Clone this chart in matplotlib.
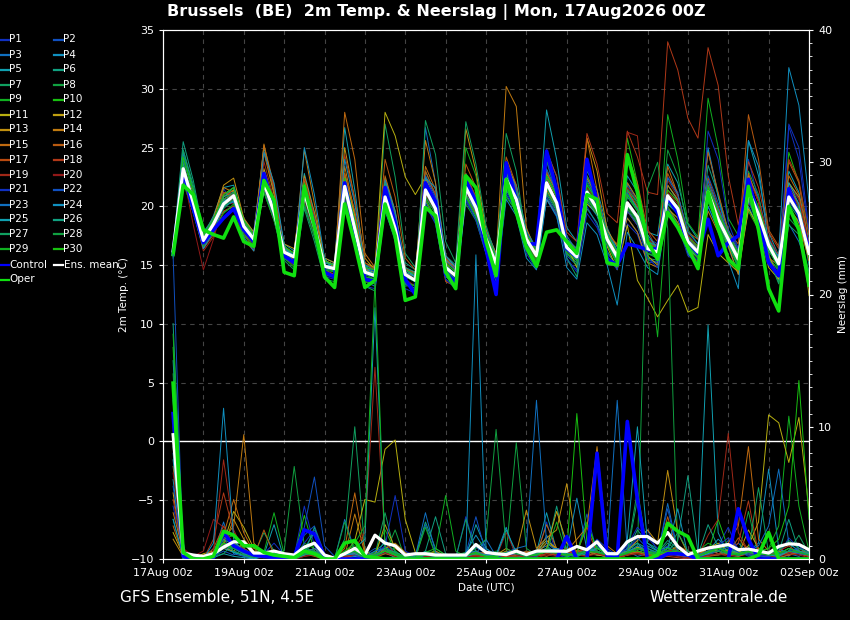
import matplotlib
matplotlib.use("Agg")
import matplotlib.pyplot as plt
from matplotlib.lines import Line2D
from matplotlib.ticker import MultipleLocator
import pandas as pd

# 6-hourly forecast steps, 17Aug 06z .. 02Sep 00z
times = pd.date_range("2026-08-17 06:00", periods=64, freq="6h")
tick_dates = pd.date_range("2026-08-17", "2026-09-02", freq="2D")
tick_labels = ["17Aug 00z", "19Aug 00z", "21Aug 00z", "23Aug 00z", "25Aug 00z",
               "27Aug 00z", "29Aug 00z", "31Aug 00z", "02Sep 00z"]
grid_days = pd.date_range("2026-08-17", "2026-09-02", freq="1D")

member_names = ["P%d" % i for i in range(1, 31)]
member_colors = ["#1030c0", "#1050c0", "#1070c0", "#1090c0", "#10a0b0",
                 "#10a080", "#10a060", "#10a040", "#10b020", "#18c010",
                 "#b8b010", "#c0a010", "#c09010", "#c07a10", "#c06a10",
                 "#b85a10", "#b84a10", "#b03818", "#a02818", "#901818"]
member_colors = member_colors + member_colors[:10]

# 2m temperature (°C), one list per member
member_temp = [
    [16.0,23.8,20.0,16.8, 18.0,21.5,20.2,17.5, 16.8,22.6,19.0,15.5, 15.2,22.0,18.9,14.0, 13.8,22.5,18.6,13.9, 13.5,19.8,17.4,13.0, 12.6,20.1,18.5,13.8, 13.2,20.4,19.0,16.1,
     14.0,23.5,21.5,16.8, 15.0,23.8,21.0,15.4, 14.6,20.0,18.4,16.0, 15.0,18.5,17.6,15.2, 15.3,22.5,21.2,16.5, 15.0,20.0,18.0,16.5, 14.2,24.0,20.5,15.5, 13.6,26.8,24.0,17.5],
    [16.3,22.8,20.8,17.4, 18.8,19.9,21.4,18.6, 17.5,21.4,19.8,16.4, 16.0,20.6,17.9,15.3, 15.1,21.0,17.6,14.8, 14.5,21.6,18.8,14.6, 14.3,22.4,20.5,15.6, 14.8,22.5,20.8,18.1,
     16.0,21.5,19.7,16.5, 15.2,20.6,19.1,15.8, 15.0,22.4,20.9,18.0, 16.5,21.8,20.4,17.3, 16.8,19.6,18.6,16.2, 15.4,22.6,20.3,18.0, 16.4,20.0,18.2,15.8, 14.4,22.0,20.6,16.8],
    [15.8,24.5,21.0,16.5, 17.9,20.8,21.2,17.9, 16.9,23.0,20.2,15.8, 15.5,21.8,18.6,14.2, 14.0,20.8,17.0,13.6, 13.2,20.0,17.5,13.5, 13.0,26.7,22.0,15.5, 14.6,20.8,19.2,16.5,
     14.5,21.0,19.5,16.2, 15.0,24.8,22.5,17.5, 16.2,21.8,20.6,17.8, 16.0,19.0,17.8,15.5, 15.2,20.4,19.3,16.4, 15.8,25.0,21.0,16.8, 15.0,22.5,20.8,17.2, 15.8,18.5,17.0,14.5],
    [16.4,22.6,19.8,16.9, 18.6,20.6,20.4,18.0, 17.0,21.2,19.2,16.2, 15.9,20.9,18.0,15.0, 14.9,21.4,18.2,14.7, 14.3,21.2,18.6,14.8, 14.0,20.8,19.4,14.5, 13.8,21.9,20.2,17.4,
     15.4,22.0,20.4,17.5, 16.2,21.2,19.8,16.8, 15.9,20.6,19.5,17.6, 15.8,21.0,19.9,17.0, 16.6,21.8,20.5,17.6, 16.4,20.5,18.5,17.0, 15.8,21.6,19.8,17.1, 15.6,19.8,18.6,15.5],
    [16.1,24.8,21.5,17.5, 19.2,21.6,21.8,18.9, 17.8,25.0,21.2,16.8, 16.2,22.8,19.5,15.6, 15.2,26.7,21.4,15.0, 14.6,19.6,17.2,13.6, 13.2,20.4,18.8,14.0, 13.5,22.8,20.6,17.8,
     15.8,23.6,21.8,18.0, 16.4,28.2,24.0,18.2, 17.0,23.0,21.4,18.2, 16.2,22.0,20.6,17.8, 17.5,23.6,22.0,18.5, 17.2,24.8,20.8,17.8, 16.0,25.6,22.6,17.8, 15.8,23.0,21.2,17.0],
    [16.5,25.5,22.2,17.8, 19.0,19.5,20.0,17.6, 17.0,21.8,19.0,15.6, 15.0,20.0,17.5,14.6, 14.6,22.6,19.0,15.0, 14.8,22.4,19.4,15.2, 14.6,23.0,21.0,15.8, 15.0,20.6,19.0,16.4,
     14.8,21.4,19.8,16.6, 15.6,21.0,19.6,16.0, 15.2,19.8,18.6,16.2, 14.8,20.8,19.6,15.6, 15.4,19.2,18.4,16.2, 15.8,23.5,21.0,18.0, 16.0,20.0,18.0,15.5, 14.0,21.6,20.0,15.0],
    [16.0,23.0,20.5,17.0, 18.2,19.8,20.6,17.8, 17.0,21.6,19.4,16.0, 15.4,21.0,18.2,14.8, 14.4,21.2,17.8,14.0, 13.8,27.0,22.5,16.0, 14.8,21.0,19.6,14.6, 14.0,21.2,19.4,16.8,
     14.6,22.8,21.0,16.6, 15.0,21.6,20.0,16.2, 15.5,20.8,19.6,17.0, 15.4,19.6,18.6,16.0, 15.6,20.2,19.4,16.6, 15.8,22.0,19.6,17.6, 15.6,21.0,19.0,16.4, 15.0,20.2,19.0,15.6],
    [16.2,22.0,19.5,16.6, 18.4,20.0,20.8,18.2, 17.4,22.4,19.8,16.4, 16.0,21.6,18.6,15.2, 14.9,20.6,17.2,13.8, 13.6,19.8,17.0,13.2, 13.4,21.8,20.2,15.2, 14.4,20.2,18.8,16.0,
     15.2,22.6,20.8,17.0, 15.6,21.4,19.8,16.0, 15.4,21.6,20.2,17.4, 15.6,21.6,20.2,16.8, 16.0,24.8,22.6,18.0, 16.8,20.8,18.4,16.6, 14.8,23.0,21.0,16.0, 13.5,19.0,18.0,14.4],
    [15.6,23.6,20.2,17.2, 18.6,20.4,21.0,18.4, 17.2,21.8,19.4,16.2, 15.8,21.0,18.2,15.0, 14.6,21.4,18.0,14.2, 13.8,20.2,17.8,14.0, 13.6,21.0,19.6,14.6, 13.8,25.0,22.6,17.8,
     15.0,20.8,19.6,16.6, 15.4,22.6,20.8,16.8, 15.8,22.0,20.6,17.4, 15.2,20.0,18.8,16.0, 15.8,27.8,24.0,18.6, 17.4,29.2,25.0,19.0, 17.5,22.0,19.4,16.2, 15.2,19.6,18.8,15.8],
    [16.2,24.0,21.0,17.4, 18.8,20.6,21.2,18.5, 17.4,22.8,20.0,16.6, 15.6,21.4,18.4,15.0, 14.4,21.0,17.8,14.0, 13.8,21.8,18.8,14.4, 14.0,20.6,19.0,14.0, 13.6,20.8,19.4,16.6,
     14.8,22.0,20.2,16.8, 15.4,20.8,19.4,16.2, 15.6,21.4,19.8,16.8, 15.0,25.8,22.0,17.0, 16.0,20.0,18.6,16.4, 15.8,20.4,18.2,16.6, 15.2,19.6,18.0,15.6, 14.6,24.6,22.0,17.6],
    [16.4,22.4,20.0,16.8, 18.2,21.0,21.6,18.8, 17.6,21.4,19.2,16.0, 15.6,22.2,19.0,15.4, 15.0,22.8,19.2,15.2, 14.8,28.0,26.0,22.5, 21.0,22.5,20.4,15.5, 14.6,22.0,20.4,17.6,
     15.8,23.0,21.0,17.0, 16.0,21.8,20.6,16.6, 14.8,20.2,19.4,16.6, 14.6,18.4,13.7,12.2, 10.6,12.0,13.3,11.0, 11.4,17.6,16.0,15.2, 14.4,19.8,18.2,14.8, 13.8,20.6,19.6,12.4],
    [16.0,23.4,20.6,17.2, 18.4,20.8,21.4,18.6, 17.6,23.2,20.4,16.6, 16.0,21.8,18.8,15.4, 15.0,22.0,18.4,14.6, 14.4,21.0,18.4,14.6, 14.2,22.0,20.4,15.4, 14.8,21.0,19.4,16.8,
     14.8,23.0,21.4,17.6, 16.0,22.8,21.2,17.2, 16.4,21.4,20.0,17.4, 15.4,19.6,18.4,15.8, 15.0,19.8,19.0,16.4, 15.6,20.8,18.6,16.8, 15.4,22.6,20.4,17.2, 15.8,22.0,20.8,16.4],
    [16.3,23.0,21.2,17.6, 19.0,21.8,22.4,19.0, 17.8,24.6,21.0,16.8, 16.4,22.6,19.4,15.6, 15.2,25.0,20.6,15.6, 14.6,21.4,18.6,14.6, 14.4,22.2,20.6,15.4, 14.6,26.6,23.0,18.0,
     16.0,23.8,21.6,17.6, 16.4,22.4,20.8,17.0, 16.0,25.8,23.0,18.0, 16.6,21.4,19.8,16.6, 16.8,21.8,20.6,17.2, 16.4,21.8,19.4,16.6, 14.2,20.6,18.8,15.8, 14.0,20.0,18.6,15.4],
    [16.2,23.6,20.6,17.4, 18.6,21.6,21.2,18.2, 17.0,25.3,21.4,16.4, 15.8,24.8,20.2,15.4, 14.8,23.4,19.4,14.8, 14.0,21.4,18.6,14.6, 14.0,25.6,22.0,15.8, 14.8,22.6,20.6,17.8,
     15.6,30.2,28.5,18.2, 16.0,21.4,19.8,16.2, 15.4,22.4,20.8,17.8, 16.0,19.0,17.8,15.2, 14.8,19.8,18.6,16.2, 15.2,19.6,17.8,15.8, 14.4,20.4,18.6,15.6, 15.0,21.6,20.2,15.4],
    [16.1,23.0,20.8,17.0, 18.2,20.6,21.0,18.0, 16.8,25.2,21.8,16.6, 15.6,22.0,19.0,15.0, 14.6,28.0,24.0,16.0, 14.8,22.6,19.6,14.8, 14.2,23.4,21.4,15.2, 14.0,22.0,20.2,17.0,
     15.2,23.0,21.2,17.4, 15.6,20.6,19.4,16.4, 15.8,25.8,21.4,17.0, 16.2,22.0,20.6,17.2, 16.6,23.4,21.0,17.4, 16.2,22.0,19.6,17.0, 15.4,22.8,20.4,16.6, 15.8,22.6,21.0,16.6],
    [16.2,22.4,20.4,16.8, 17.8,21.2,20.8,17.6, 16.4,22.4,19.6,15.8, 15.2,21.6,18.6,14.6, 14.2,22.8,19.6,14.8, 14.6,24.0,20.8,15.6, 14.6,23.0,21.0,15.6, 14.6,23.6,21.6,17.6,
     15.4,24.2,21.8,17.6, 16.0,23.0,21.2,17.0, 16.4,22.6,21.0,17.6, 16.8,24.4,22.0,18.0, 17.0,22.8,21.0,17.8, 17.2,24.6,21.2,17.8, 16.8,27.8,24.0,18.0, 16.6,23.8,22.0,16.6],
    [16.3,23.4,20.2,16.4, 17.6,19.6,20.0,17.2, 16.2,22.2,19.6,15.8, 15.2,20.8,17.8,14.4, 14.2,21.2,17.6,13.8, 13.4,20.4,17.6,13.6, 12.8,20.6,18.8,13.6, 13.2,21.0,19.4,16.4,
     14.4,21.8,20.0,16.8, 15.2,21.8,20.0,16.4, 15.6,20.6,19.4,16.8, 15.6,21.4,20.0,17.0, 16.4,21.4,20.4,17.4, 16.6,22.4,20.0,17.6, 16.2,21.6,19.6,17.0, 15.4,20.6,19.6,15.6],
    [16.2,22.6,19.8,16.6, 18.0,21.2,21.0,17.6, 16.8,24.6,21.6,16.4, 15.4,22.4,19.2,15.0, 14.6,24.4,20.6,15.2, 14.6,22.2,19.2,14.8, 14.2,22.6,21.0,15.2, 14.8,22.8,20.8,17.2,
     15.8,23.2,21.4,17.6, 16.2,24.6,22.6,17.8, 17.0,26.2,23.6,19.4, 18.6,26.4,24.2,21.2, 21.0,34.0,31.6,27.5, 25.8,33.5,30.3,22.6, 18.4,23.8,21.6,17.8, 16.4,24.0,22.2,17.6],
    [16.0,22.2,19.6,16.2, 17.4,20.2,20.6,17.8, 17.0,23.8,20.6,16.2, 15.4,21.4,18.4,14.8, 14.6,21.8,18.4,14.4, 14.2,20.8,18.2,14.4, 13.8,21.4,19.8,14.6, 14.0,21.4,19.8,17.0,
     15.2,22.0,20.4,17.0, 15.6,21.8,20.2,16.6, 15.8,21.0,19.8,17.2, 15.8,26.3,26.0,18.0, 16.2,21.2,20.2,17.4, 16.4,21.6,19.4,17.4, 15.8,21.8,19.8,17.0, 15.4,21.4,20.0,16.4],
    [15.9,22.8,18.4,14.6, 17.2,20.4,20.2,17.0, 16.4,21.6,19.2,15.6, 15.0,20.4,17.6,14.2, 14.0,20.8,17.4,13.6, 13.4,20.2,17.8,13.8, 13.2,21.0,19.4,14.2, 13.6,21.2,19.6,16.8,
     14.8,21.6,20.2,16.8, 15.4,21.6,20.0,16.4, 15.6,21.6,20.4,17.4, 16.0,21.6,20.4,17.2, 16.6,22.2,20.8,17.6, 16.6,22.0,19.8,17.8, 16.2,22.4,20.4,17.4, 15.8,21.8,20.6,16.8],
    [16.4,23.4,20.8,17.2, 18.4,20.0,20.6,18.0, 17.0,21.6,19.0,15.6, 15.2,20.2,17.4,14.0, 14.0,20.6,17.2,13.2, 13.0,20.0,17.2,13.4, 12.8,20.2,18.6,13.8, 13.0,20.6,18.8,16.0,
     14.0,21.2,19.6,16.0, 14.6,20.8,19.4,15.6, 14.4,19.4,18.2,15.8, 14.6,19.6,18.4,15.6, 14.8,19.8,18.4,15.8, 15.2,26.4,24.0,18.6, 16.4,20.4,18.4,15.4, 14.2,27.0,25.0,18.0],
    [16.2,23.2,20.6,17.0, 18.6,20.2,20.8,18.4, 17.2,22.0,19.6,16.2, 15.8,21.2,18.2,14.8, 14.6,21.6,18.0,14.2, 14.0,20.6,17.8,14.0, 13.6,21.2,19.6,14.6, 13.8,21.4,19.6,17.0,
     15.0,22.2,20.6,17.2, 15.8,22.2,20.4,16.6, 15.6,21.0,19.6,17.0, 15.4,20.0,18.8,16.2, 15.8,20.6,19.6,16.8, 15.8,20.8,18.6,17.0, 15.4,21.0,19.0,16.4, 14.8,20.4,19.2,15.8],
    [16.6,24.0,21.4,17.8, 18.8,20.4,21.0,18.4, 17.4,22.4,19.8,16.2, 15.6,21.6,18.6,15.2, 15.0,22.2,18.6,14.8, 14.4,21.6,18.8,14.6, 14.2,22.6,20.8,15.4, 14.6,22.4,20.6,17.8,
     15.8,23.4,21.6,17.8, 16.4,23.2,21.2,17.2, 16.4,22.2,20.6,17.8, 16.2,21.2,19.8,17.0, 16.6,22.4,21.0,17.8, 16.8,22.2,19.8,17.8, 16.2,21.6,19.8,17.2, 15.6,21.0,19.6,16.4],
    [16.1,22.4,19.4,16.4, 17.8,20.0,20.4,17.4, 16.2,24.6,22.0,16.8, 15.0,25.0,21.0,15.6, 14.4,24.0,20.2,15.0, 14.0,22.2,19.6,14.6, 14.0,22.4,21.6,15.8, 14.8,21.0,19.6,16.0,
     13.6,20.6,19.2,15.6, 14.6,20.6,19.2,14.8, 13.8,18.6,17.6,15.0, 11.6,17.8,16.4,14.8, 14.2,20.2,19.4,16.0, 15.0,20.0,18.0,15.4, 13.0,25.6,23.4,16.6, 15.8,31.8,28.6,20.4],
    [16.0,22.8,20.0,17.0, 18.4,20.4,21.0,18.2, 17.2,22.6,20.0,16.4, 15.8,21.4,18.4,15.0, 14.8,22.0,18.4,14.6, 14.2,21.2,18.6,14.4, 14.0,21.8,20.0,15.0, 14.2,21.8,20.2,17.4,
     15.4,22.6,20.8,17.2, 15.8,21.6,20.0,16.4, 15.4,20.4,19.2,16.8, 15.4,22.6,21.2,17.6, 16.4,20.6,19.4,16.6, 15.6,21.0,18.6,16.8, 15.0,20.8,19.0,16.2, 15.0,22.0,20.2,16.0],
    [16.3,23.6,20.6,17.4, 18.8,20.8,21.6,18.8, 17.6,22.4,19.8,16.4, 16.0,21.6,18.6,15.2, 15.0,22.2,18.8,14.8, 14.6,22.0,19.2,14.8, 14.4,21.6,20.0,15.0, 14.2,21.6,19.8,17.2,
     15.2,22.8,21.2,17.6, 16.2,22.6,21.0,17.2, 16.0,21.4,20.2,17.8, 16.2,21.0,19.8,17.0, 16.6,21.0,20.0,17.2, 16.4,21.4,19.2,17.6, 15.8,21.6,19.8,17.0, 15.4,21.0,19.8,16.4],
    [16.2,24.8,21.8,17.6, 19.0,20.6,21.2,18.6, 17.4,21.2,18.8,15.4, 14.6,19.8,17.0,13.8, 13.6,20.4,17.0,13.2, 12.8,19.8,17.4,13.4, 12.8,27.3,24.4,17.0, 15.2,27.2,23.6,18.4,
     15.6,26.2,23.0,17.0, 15.0,24.0,21.0,15.6, 14.0,22.6,20.8,17.4, 15.6,21.4,20.4,17.0, 16.0,21.0,19.8,16.8, 16.0,21.8,19.6,17.4, 14.6,20.6,18.6,15.6, 13.4,18.4,17.6,14.0],
    [16.4,24.2,21.2,17.4, 18.6,20.0,20.6,18.0, 17.0,21.8,19.2,15.8, 15.4,20.8,17.8,14.6, 14.4,21.0,17.6,14.0, 13.8,20.4,17.8,14.0, 13.6,20.8,19.4,14.4, 13.6,20.8,19.2,16.6,
     14.6,21.6,20.0,16.6, 15.2,21.2,19.8,16.0, 15.0,20.6,19.4,16.8, 15.2,19.8,18.6,16.0, 15.6,20.4,19.4,16.6, 15.8,20.8,18.6,17.0, 15.4,21.0,19.0,16.4, 14.8,20.6,19.4,15.8],
    [15.8,23.0,19.6,16.6, 18.0,19.4,20.2,17.6, 16.6,21.2,18.8,15.6, 14.8,20.2,17.4,14.2, 14.0,20.4,17.2,13.6, 13.4,19.8,17.4,13.6, 13.2,20.6,19.0,14.2, 13.8,21.0,19.2,16.8,
     14.6,21.6,20.0,16.8, 15.4,21.6,20.0,16.2, 15.4,20.8,19.4,16.8, 15.2,20.0,18.8,16.2, 8.9,20.8,19.6,16.8, 15.6,20.8,18.6,17.0, 15.0,21.0,19.0,16.4, 14.6,20.8,19.6,15.6],
    [16.5,24.2,21.4,17.6, 18.8,21.0,21.6,18.8, 17.6,22.8,20.2,16.6, 16.0,22.0,18.8,15.4, 15.0,22.4,18.8,14.8, 14.6,21.6,18.8,14.6, 14.2,22.0,20.4,15.2, 14.4,22.2,20.4,17.6,
     15.6,23.0,21.2,17.6, 16.2,22.6,20.8,17.0, 16.0,21.8,20.4,17.6, 16.0,21.0,19.6,16.8, 16.4,21.4,20.4,17.4, 16.6,21.6,19.6,17.6, 16.0,21.8,20.0,17.0, 15.4,21.2,19.8,16.4],
]

# 6-hourly precipitation (mm), one list per member
member_precip = [
    [4.0,0.3,0,0.1, 0.8,1.5,0.6,0.2, 0,0.4,1.2,0.3, 0.2,4.0,1.0,0, 0,0.2,0.5,0.1, 0.3,1.0,0.4,0, 0,0.2,0.1,0, 0,3.2,0.6,0.2,
     0.4,0,0.3,0.6, 0.2,2.8,0.3,0.1, 0.6,0.2,1.2,0, 0,0.8,1.4,2.2, 0.5,1.0,0.3,0, 0.2,0.5,1.0,2.4, 0.6,0.2,0.4,0, 0.3,1.6,0.8,0.5],
    [23.0,0,0,0, 0.2,0.6,0.3,0.8, 0.3,0.1,0.5,0, 0,1.8,2.5,0.4, 0,0,0.2,0.3, 0.8,0.6,0.2,0, 0,2.6,0.3,0.1, 0,0.2,0.9,0.4,
     0,0.3,0.2,0, 0.4,0.6,0.2,0.9, 0.3,3.4,0.5,0, 0.1,1.2,0.5,0.8, 0.4,0.3,1.0,0.2, 0,0.3,0.6,1.4, 0.8,0.4,0,0.2, 0.5,0.2,1.0,0.3],
    [8.0,0.5,0,0, 0.3,2.8,0.4,0.2, 0.1,0.6,0.3,0, 0,0.5,0.8,0.2, 0,3.0,0.6,0, 0,1.5,0.3,0.1, 0.2,0.2,0,0, 0.1,0.3,0.4,1.5,
     0.2,0.1,0.4,0.3, 0.2,1.8,0.5,0.3, 0.4,0.8,0.3,0.5, 12.0,0.6,0.2,0.4, 0.3,4.2,0.6,0.2, 0.1,0.9,0.4,0.6, 1.2,0.5,0.3,0.1, 0.8,0.4,0.2,0.6],
    [12.0,0.2,0,0, 0.2,1.0,0.5,0.3, 0,0.2,0.6,0.2, 0.1,0.8,2.0,0.3, 0,0.1,0.3,0, 0.4,0.8,0.2,0, 0,0.6,0.4,0.2, 0.1,0.5,1.8,0.6,
     0.3,2.4,0.1,0.4, 0.6,1.0,0.4,0.2, 0.3,0.6,1.0,0.4, 0.2,0.4,0.8,1.0, 0.6,0.9,0.4,0.1, 0.3,0.6,1.5,0.8, 0.4,0.6,1.2,6.8, 0.8,0.3,0.6,0.2],
    [6.0,0,0,0, 0.1,0.4,0.2,0.1, 0,0.3,2.6,0, 0,0.6,0.4,0, 0,0.3,0.2,0, 0.2,0.5,0.1,0, 0.3,0.2,0.4,0.1, 0,0.1,2.6,0.8,
     0.2,0.4,0.3,0.2, 0.5,3.5,0.6,0.3, 0.2,0.4,0.8,0.6, 0.3,0.8,1.2,0.4, 0.2,0.5,0.6,0.2, 0.4,17.7,2.0,0.3, 0.2,0.5,0.4,0.2, 0.1,0.3,0.6,0.4],
    [17.8,0.6,0.2,0, 0.3,0.8,1.4,0.6, 0.2,0.5,0.3,0, 0,0.6,1.2,0.2, 0,0.5,0.8,0.1, 0.6,1.2,0.6,0, 0.2,2.8,0.8,0.3, 0.1,0.2,0.4,0,
     0.1,0.3,0.6,0.2, 0.4,0.6,4.0,0.5, 0.3,0.5,1.2,0.4, 0.2,0.6,2.2,1.2, 0.8,0.6,1.4,6.3, 0.5,0.3,0.8,1.0, 0.4,0.6,0.3,0.2, 0.5,3.0,0.6,0.3],
    [3.0,0,0,0, 0.2,0.4,1.2,0.8, 0.3,2.0,0.6,0.2, 0.1,0.5,0.3,0, 0,1.5,10.0,0.6, 0.3,3.5,0.4,0, 0.1,0.3,0.6,0.2, 0,0.3,0.2,0.1,
     0.5,0.3,0.2,0.6, 0.4,1.2,0.8,0.3, 0.5,0.6,0.3,0.2, 0.1,0.4,4.5,0.8, 0.4,1.2,0.6,0.3, 0.2,0.4,0.3,0.6, 0.4,0.8,0.5,0.3, 0.2,0.6,1.8,0.4],
    [10.0,0.3,0,0, 0.4,1.2,0.8,0.5, 0.2,0.3,0.4,0.6, 7.0,1.0,0.4,0, 0,0.3,0.4,0, 0.2,0.4,2.2,0, 0,0.4,0.3,0.1, 0.3,0.5,0.6,0.2,
     0.6,0.4,8.8,0.8, 0.3,0.5,0.4,0.2, 0.6,0.4,0.9,0.3, 0.2,0.5,0.5,28.0, 30.0,25.0,0.6,0.4, 0.3,0.5,0.9,0.4, 0.3,3.6,0.2,0.5, 0.8,1.2,0.6,0.2],
    [14.0,0.8,0,0, 0.3,1.5,1.8,1.0, 0.6,0.5,3.5,0.4, 0.2,1.2,0.8,0.1, 0,0.6,1.0,0.2, 0.5,2.2,0.6,0.1, 0.3,0.4,0.6,4.8, 0.6,0.2,0.5,0.3,
     0.2,0.6,0.4,0.2, 0.3,0.8,0.6,0.4, 0.5,2.8,0.6,0.3, 0.2,0.5,1.0,0.6, 0.4,0.8,0.5,0.3, 0.6,1.2,0.8,0.5, 0.3,0.4,0.6,0.8, 2.5,10.8,4.0,0.6],
    [16.0,0.4,0,0, 0.2,0.9,1.0,0.4, 0.3,0.4,0.2,0, 0.1,3.3,0.6,0, 0,0.4,0.6,0.2, 0.3,0.6,0.3,0, 0.1,0.5,0.8,0.3, 0.2,0.4,0.3,0.2,
     0.3,0.5,0.6,0.3, 0.4,0.6,0.8,0.6, 11.0,1.2,0.4,0.2, 0.3,0.6,0.8,0.6, 0.4,0.6,0.9,0.3, 0.2,0.5,3.0,0.8, 0.6,0.4,0.3,0.5, 0.4,0.8,0.6,0.4],
    [2.0,0.3,0,0.4, 0.6,1.2,3.6,2.4, 0.8,0.5,0.2,0.3, 0.1,0.6,0.4,0, 0,0.3,1.4,4.5, 4.3,8.3,9.0,3.0, 0.5,0.3,0.2,0.1, 0,0.3,0.4,0.2,
     0.1,0.5,0.4,0.3, 0.6,1.4,0.8,0.4, 0.3,0.6,0.4,0.2, 0.1,0.3,0.6,0.4, 0.2,0.5,0.3,0.2, 0.4,0.8,1.2,0.6, 0.5,1.0,2.8,10.9, 10.3,7.3,10.7,3.7],
    [5.0,0.2,0,0, 0.3,0.8,0.6,1.2, 0.4,0.3,0.1,0, 0,0.4,0.6,0.1, 0,0.2,0.4,0.1, 0.2,2.6,0.8,0.3, 0.1,0.4,0.2,0, 0,0.2,0.6,0.3,
     0.2,0.4,0.3,0.2, 0.5,0.8,3.6,1.2, 0.6,0.4,0.3,0.2, 0.2,0.5,0.9,0.6, 0.3,0.6,0.4,0.2, 0.3,0.8,0.6,0.4, 0.3,2.2,0.8,0.4, 0.6,0.3,0.5,0.4],
    [1.5,0.2,0,0.2, 0.4,1.0,3.0,1.5, 0.6,0.3,0.2,0.1, 0,0.5,0.8,0.2, 0,0.2,0.5,0.2, 0.1,0.8,1.2,0.5, 0.2,0.3,0.6,0.2, 0,0.2,0.5,0.4,
     0.3,0.8,0.4,3.7, 0.8,1.6,2.2,5.7, 1.0,0.6,0.4,0.3, 0.2,0.6,1.4,2.2, 1.2,6.7,2.0,0.4, 0.3,0.5,0.8,0.6, 0.4,0.6,0.5,0.3, 0.2,0.5,0.8,0.4],
    [3.5,0.6,0,0.3, 0.5,1.5,2.5,9.4, 1.2,0.4,0.2,0, 0,0.3,0.6,0.1, 0,0.2,3.4,0.4, 0.3,0.6,0.2,0, 0.1,0.4,0.3,0.2, 0,0.3,0.4,0.2,
     0.2,0.6,0.5,0.3, 0.4,1.2,0.8,0.6, 1.5,2.4,8.5,1.0, 0.4,0.6,0.5,0.3, 0.2,0.4,0.6,0.3, 0.5,0.8,0.4,0.6, 0.3,0.5,0.6,0.4, 0.2,0.6,0.4,0.3],
    [7.0,0.4,0,0, 0.6,1.8,4.5,2.0, 0.5,0.3,0.2,0, 0,0.6,0.4,0, 0,0.8,5.0,0.6, 0.2,0.6,0.4,0.2, 0.1,0.3,0.5,0.2, 0,0.2,0.3,0.6,
     0.4,0.3,0.2,0.5, 0.3,2.6,0.8,0.4, 0.6,0.8,0.5,0.3, 0.2,0.4,0.6,0.4, 0.3,0.5,1.0,0.6, 0.4,0.6,0.8,1.2, 2.5,8.5,1.5,0.6, 0.4,0.3,0.6,0.5],
    [2.5,0.2,0,0, 0.4,0.8,1.2,0.6, 0.2,2.2,0.3,0, 0,0.4,0.2,0, 0,0.1,0.3,0.2, 0.1,0.4,0.2,0, 0,0.2,0.3,0.1, 0.2,0.3,0.4,0.1,
     0,0.2,0.3,0.6, 0.4,0.2,0.5,0.8, 0.4,0.2,0.6,0.3, 0.1,0.3,0.4,0.2, 0.3,3.2,0.4,0.2, 0.1,0.2,0.3,0.4, 1.6,0.6,0.3,0.2, 0.1,0.3,0.4,0.2],
    [9.0,0.3,0,0, 0.8,2.5,1.0,0.4, 0.2,0.3,0.2,0, 0,0.3,0.5,0.1, 0,0.2,0.4,0.1, 0.3,0.6,0.2,0, 0.1,0.3,0.2,0, 0,0.2,0.3,0.2,
     0.1,0.2,0.4,0.3, 0.2,0.4,0.3,0.6, 0.5,2.4,0.4,0.2, 0.1,0.3,0.5,0.4, 0.2,0.4,0.3,0.1, 0.2,0.4,0.6,0.3, 0.2,0.4,0.3,0.2, 0.3,0.5,0.4,0.2],
    [4.5,0.6,0,0, 1.5,5.0,2.0,0.8, 0.3,0.2,0.4,0.1, 0,0.2,0.3,0, 0,0.3,0.6,0.2, 0.4,0.8,0.3,0, 0.1,0.2,0.1,0, 0,0.1,0.2,0.1,
     0,0.2,0.1,0.3, 0.2,0.4,0.3,0.6, 0.5,0.8,0.4,0.3, 0.2,0.4,0.6,0.3, 0.1,0.2,0.1,0, 0.1,0.2,0.4,0.6, 1.2,4.4,0.4,0.3, 0.6,1.0,0.4,0.2],
    [11.0,0.5,0,0, 0.6,7.5,2.2,0.6, 0.3,0.2,0.1,0, 0,0.4,0.6,0.2, 0,0.3,0.8,2.0, 14.5,1.2,0.4,0.2, 0.1,0.3,0.2,0.1, 0,0.2,0.3,0.2,
     0.1,0.3,0.2,0.4, 0.3,0.6,0.4,0.5, 0.4,0.6,0.5,0.3, 0.2,0.4,0.8,0.6, 0.4,0.6,0.8,0.3, 0.2,1.8,3.0,9.5, 2.0,0.6,0.4,0.2, 0.3,0.5,0.6,0.3],
    [6.5,0.8,0.2,0.6, 3.0,2.4,1.0,0.4, 0.2,0.1,0.3,0, 0,0.2,0.4,0.1, 0,0.2,0.3,0.1, 0.2,0.5,0.2,0, 0,0.2,0.1,0, 0,0.1,0.2,0,
     0.1,2.0,0.3,0.2, 0.1,0.3,0.2,0.4, 0.3,0.2,0.4,0.2, 0.1,0.3,0.4,0.2, 0.2,0.3,0.2,0.1, 0.1,0.3,0.4,0.2, 0.3,0.6,0.4,0.2, 0.2,0.4,0.3,0.1],
    [13.0,0.2,0,0, 0.3,1.6,1.0,0.5, 0.2,0.6,0.4,0.1, 0,1.2,2.2,0.3, 0,0.4,0.6,0.1, 0.3,1.0,4.8,0.6, 0.2,0.4,0.3,0.1, 0,0.3,0.5,0.2,
     0.1,0.4,0.6,0.3, 0.2,0.8,0.5,0.3, 0.4,0.6,1.5,0.8, 0.3,1.0,2.4,1.6, 0.8,0.6,0.4,0.2, 0.3,0.6,1.0,1.6, 0.8,0.4,0.3,0.2, 0.4,0.6,0.8,0.5],
    [5.5,0.3,0,0, 0.2,1.0,0.8,0.4, 0.2,0.4,0.2,0, 0,2.4,6.2,1.0, 0.2,0.4,0.3,0, 0.2,0.6,0.3,0.1, 0,0.3,0.2,0.1, 0.1,0.4,3.2,0.4,
     0.2,0.3,0.4,0.2, 0.4,0.6,0.8,0.4, 0.3,0.5,1.2,0.6, 0.3,0.8,1.6,0.8, 0.4,3.8,0.5,0.2, 0.1,0.4,0.6,0.9, 0.5,0.3,0.2,0.2, 0.4,0.6,0.4,0.3],
    [9.0,0.4,0,0, 0.2,1.2,0.6,0.3, 0.1,0.3,0.2,0, 0,0.5,0.8,0.2, 0,0.3,0.5,0.2, 0.6,0.8,0.4,0.1, 0.2,3.5,0.5,0.2, 0.1,0.4,0.6,0.3,
     0.2,0.5,0.8,1.0, 12.0,1.2,0.6,0.4, 0.3,0.6,0.8,0.4, 0.2,0.5,1.0,0.6, 0.4,0.8,0.6,0.3, 0.2,0.6,0.8,0.5, 0.3,0.6,1.0,2.5, 6.8,1.2,0.6,0.4],
    [3.0,0.2,0,0, 1.2,11.4,1.5,0.4, 0.2,0.3,0.2,0, 0,0.4,0.6,0.2, 0,0.3,0.4,0.1, 0.2,0.6,0.3,0, 0.1,0.4,0.3,0.2, 0.2,0.3,23.0,0.8,
     0.3,0.4,0.6,0.4, 0.3,0.6,0.8,0.5, 4.6,0.7,0.6,0.3, 0.2,0.6,0.8,0.5, 0.4,0.8,3.8,0.3, 0.2,0.5,0.6,0.4, 0.3,0.5,0.6,0.4, 0.3,0.6,0.5,0.3],
    [7.5,0.3,0,0, 0.2,0.8,0.5,0.3, 0.1,0.2,0.4,0.2, 0,0.3,0.5,0.1, 0,0.4,0.8,1.5, 19.0,0.8,0.4,0.2, 0.1,0.3,0.2,0.1, 0,0.2,0.4,0.3,
     0.2,2.2,0.5,0.3, 0.4,0.6,0.5,0.3, 0.2,0.6,0.8,0.4, 0.3,1.5,10.0,1.2, 0.6,0.4,0.3,0.2, 0.2,0.4,0.8,0.5, 0.3,0.5,0.4,0.3, 0.2,0.6,0.5,0.3],
    [15.0,0.5,0,0, 0.3,1.0,0.8,0.4, 0.2,0.3,0.2,0.1, 0,0.4,2.4,0.1, 0,0.3,0.6,0.2, 0.4,0.8,0.5,0.2, 0.1,0.6,3.2,0.4, 0.1,0.3,0.4,0.2,
     0.2,0.4,0.6,0.3, 0.4,0.8,0.6,0.4, 0.3,0.6,0.8,0.5, 0.3,0.6,1.2,0.8, 0.5,1.4,0.8,0.4, 0.3,2.6,0.9,0.7, 0.4,0.6,0.5,0.3, 0.4,0.8,0.6,0.4],
    [12.5,0.4,0,0, 0.4,1.4,1.2,0.5, 0.2,0.4,0.3,0.1, 0,0.8,0.6,0.2, 0,0.5,0.8,0.2, 0.3,0.6,0.4,0.1, 0.2,0.5,0.4,0.2, 0.1,3.0,0.5,0.2,
     0.3,0.5,0.4,0.3, 0.4,0.8,0.5,0.3, 0.4,0.6,0.5,0.3, 0.2,0.5,5.2,0.6, 0.4,0.8,2.0,0.6, 0.3,0.6,0.8,0.5, 0.3,0.6,5.4,0.4, 0.6,1.4,0.8,0.5],
    [8.5,0.3,0,0, 0.3,1.2,0.6,0.3, 0.1,0.3,0.2,0, 0,0.4,0.3,0.1, 0,2.8,0.5,0.1, 0.2,0.6,0.3,0, 0.1,0.3,0.2,0.1, 0,0.4,0.8,1.5,
     9.8,0.8,0.4,0.2, 0.3,0.6,0.4,0.3, 0.2,0.5,0.6,0.3, 0.2,0.4,0.8,0.5, 0.3,0.6,0.4,0.2, 0.2,0.5,0.6,0.4, 0.3,0.5,0.4,0.3, 0.4,0.6,0.5,0.3],
    [17.0,0.6,0,0, 0.2,1.0,0.8,0.6, 0.3,0.4,0.2,0.1, 0,0.5,0.4,0.1, 0,0.6,1.2,2.5, 21.0,0.8,0.4,0.2, 0.1,2.4,0.3,0.1, 0,0.3,0.4,0.2,
     0.2,0.4,0.6,0.3, 0.3,0.6,2.8,0.3, 0.4,0.6,0.5,0.3, 0.2,0.5,0.8,0.6, 0.4,0.8,0.6,0.3, 0.2,0.5,0.8,0.4, 0.3,0.6,0.4,0.3, 0.4,0.8,0.5,0.3],
    [10.5,0.4,0,0, 0.3,1.2,1.0,0.5, 0.2,0.3,0.2,0.1, 0,0.6,0.5,0.1, 0,0.4,0.6,0.2, 0.3,0.6,0.3,0.1, 0.1,0.4,0.3,0.1, 0,0.3,0.5,0.2,
     0.2,0.4,0.5,0.3, 0.3,0.6,0.5,0.3, 0.4,2.6,0.8,0.4, 0.2,0.5,0.6,0.4, 0.3,0.6,0.5,0.2, 0.2,0.5,0.8,0.5, 0.4,0.6,0.5,0.8, 1.5,4.0,13.5,3.0],
]

control_temp = [16.0,23.0,19.8,16.9, 18.0,19.0,19.8,18.0, 17.0,22.8,19.8,15.8, 15.2,21.6,18.4,14.4,
                14.0,22.0,17.8,13.8, 13.6,21.6,18.6,13.8, 12.5,22.0,20.4,14.2, 13.6,22.2,20.4,16.4,
                12.5,23.7,20.6,16.8, 16.8,24.7,21.4,16.4, 15.7,24.0,20.4,15.5, 15.0,16.8,16.6,16.3,
                16.4,20.8,19.4,17.0, 16.0,18.9,15.8,16.9, 17.5,22.3,19.0,15.2, 14.1,21.5,19.2,16.4]
oper_temp = [15.9,21.8,21.0,18.0, 17.6,17.3,19.1,17.0, 16.6,22.2,20.5,14.4, 14.1,21.7,18.3,14.0,
             13.1,20.2,16.8,13.1, 13.7,20.2,17.5,12.0, 12.3,19.9,19.2,14.4, 13.0,22.6,21.6,17.0,
             14.1,22.3,19.5,16.5, 14.9,17.8,18.0,17.0, 16.0,21.0,20.6,15.2, 15.0,24.4,21.2,17.0,
             15.5,19.5,18.2,16.5, 14.7,21.2,18.1,15.5, 14.7,21.7,18.0,13.0, 11.1,20.0,18.0,13.3]
mean_temp = [16.2,23.2,20.3,17.1, 18.5,20.2,20.9,18.3, 17.2,22.0,19.5,16.1, 15.7,21.2,18.3,14.9,
             14.7,21.7,18.1,14.4, 14.1,20.8,18.1,14.2, 13.7,21.4,19.8,14.8, 14.1,21.6,19.9,17.2,
             15.1,22.3,20.6,17.2, 15.8,22.0,20.3,16.5, 15.7,21.2,19.8,17.2, 15.7,20.3,19.1,16.4,
             16.1,20.9,19.8,17.0, 16.1,21.2,18.9,17.2, 15.5,21.3,19.3,16.7, 15.1,20.8,19.4,16.0]

control_precip = [11.0,0.2,0,0, 0.1,2.0,1.0,0.6, 0.3,0.2,0.1,0.1, 0.2,2.2,1.9,0.2,
                  0,0,0,0, 0,0,0,0, 0,0,0,0, 0,0,0,0,
                  0,0,0,0, 0,0,0,1.7, 0,0,8.0,0.2, 0.1,10.4,4.5,0,
                  0,0.4,0.4,0.3, 0,0,0,0, 3.8,1.5,0,0, 0,0,0,0]
oper_precip = [13.3,0.5,0,0, 0.2,2.1,1.8,1.0, 1.0,0.5,0.3,0.2, 0.1,0.6,0.4,0,
               0,1.2,1.4,0.2, 0.1,0,0,0, 0,0,0,0, 0,0,0,0,
               0,0,0,0, 0,0,0,0, 0,0,0,0, 0,0,0,0,
               0.3,2.7,2.1,1.7, 0,0,0,0, 0,0,0.3,2.0, 0,0,0,0]
mean_precip = [9.4,0.45,0.3,0.2, 0.4,0.9,1.3,1.3, 0.45,0.45,0.6,0.4, 0.3,0.9,1.2,0.3,
               0.06,0.4,0.8,0.3, 1.8,1.2,1.0,0.3, 0.4,0.4,0.3,0.3, 0.3,0.3,1.1,0.5,
               0.4,0.33,0.6,0.33, 0.6,0.6,0.6,0.58, 0.95,0.7,1.3,0.4, 0.4,1.3,1.7,1.7,
               1.2,2.0,0.95,0.33, 0.6,0.83,0.95,1.1, 0.7,0.75,0.6,0.45, 0.95,1.15,1.1,0.7]

W, H = 850, 620
fig = plt.figure(figsize=(W / 100, H / 100), dpi=100, facecolor="black")
ax = fig.add_axes([163 / W, 61 / H, 646 / W, 529 / H])
ax.set_facecolor("black")
ax2 = ax.twinx()

# temperature panel
for vals, col in zip(member_temp, member_colors):
    ax.plot(times, vals, color=col, lw=0.7)
ax.plot(times, control_temp, color="#0000ff", lw=2.6)
ax.plot(times, mean_temp, color="white", lw=2.3)
ax.plot(times, oper_temp, color="#10e010", lw=2.6)

# precipitation panel (right axis)
for vals, col in zip(member_precip, member_colors):
    ax2.plot(times, vals, color=col, lw=0.7)
ax2.plot(times, control_precip, color="#0000ff", lw=2.6)
ax2.plot(times, mean_precip, color="white", lw=2.3)
ax2.plot(times, oper_precip, color="#10e010", lw=2.6)

ax.set_xlim(tick_dates[0], tick_dates[-1])
ax.set_ylim(-10, 35)
ax2.set_ylim(0, 40)

ax.set_xticks(tick_dates)
ax.set_xticklabels(tick_labels)
ax.set_xticks(grid_days, minor=True)
ax.set_yticks(range(-10, 36, 5))
ax2.set_yticks(range(0, 41, 10))
ax2.yaxis.set_minor_locator(MultipleLocator(1))

grid_kw = dict(color="#444444", lw=0.8, ls=(0, (4, 4)))
ax.grid(True, which="both", axis="x", **grid_kw)
ax.grid(True, which="major", axis="y", **grid_kw)
ax.axhline(0, color="white", lw=1)
ax.tick_params(axis="x", which="minor", length=0)

for a in (ax, ax2):
    a.tick_params(colors="white", labelsize=8, length=3)
    for s in a.spines.values():
        s.set_color("white")
ax2.tick_params(which="minor", colors="white", length=2)

ax.set_ylabel("2m Temp. (°C)", color="white", fontsize=7.5, labelpad=1)
ax2.set_ylabel("Neerslag (mm)", color="white", fontsize=7.5, labelpad=4)
ax.set_xlabel("Date (UTC)", color="white", fontsize=7.5, labelpad=3)

fig.text(0.513, 1 - 12 / H, "Brussels  (BE)  2m Temp. & Neerslag | Mon, 17Aug2026 00Z",
         color="white", fontsize=11.5, fontweight="bold", ha="center", va="center")
fig.text(120 / W, 1 - 598 / H, "GFS Ensemble, 51N, 4.5E", color="white",
         fontsize=11, va="center")
fig.text(650 / W, 1 - 598 / H, "Wetterzentrale.de", color="white",
         fontsize=11, va="center")

# legend, two columns at the left edge
col1 = member_names[0::2] + ["Control", "Oper"]
col1_colors = member_colors[0::2] + ["#0000ff", "#10e010"]
col2 = member_names[1::2] + ["Ens. mean"]
col2_colors = member_colors[1::2] + ["white"]
for x0, names, cols in ((0, col1, col1_colors), (54, col2, col2_colors)):
    for row, (name, col) in enumerate(zip(names, cols)):
        yy = 1 - (39.5 + 15 * row) / H
        fig.add_artist(Line2D([x0 / W, (x0 + 9) / W], [yy, yy],
                              transform=fig.transFigure, color=col, lw=1.6))
        fig.text((x0 + 9.5) / W, yy, name, color="white", fontsize=7.5, va="center")

fig.savefig("out.png", dpi=100, facecolor="black")
